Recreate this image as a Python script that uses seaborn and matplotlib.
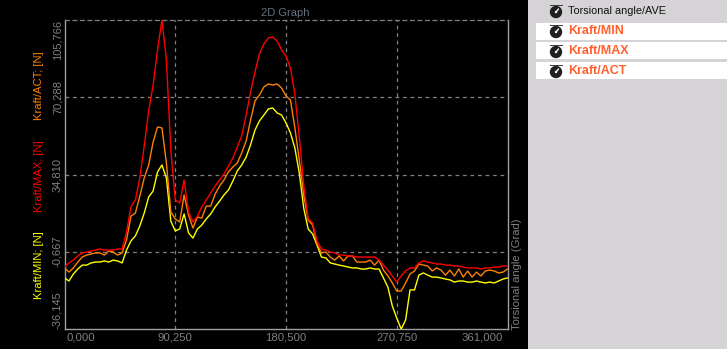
import pandas as pd
import seaborn as sns
import matplotlib.pyplot as plt
from matplotlib.patches import Circle, Rectangle

# angle samples, Grad
angle = [0.00, 3.61, 7.22, 10.83, 14.44, 18.05, 21.66, 25.27, 28.88, 32.49,
         36.10, 39.71, 43.32, 46.93, 50.54, 54.15, 57.76, 61.37, 64.98, 68.59,
         72.20, 75.81, 79.42, 83.03, 86.64, 90.25, 93.86, 97.47, 101.08, 104.69,
         108.30, 111.91, 115.52, 119.13, 122.74, 126.35, 129.96, 133.57, 137.18, 140.79,
         144.40, 148.01, 151.62, 155.23, 158.84, 162.45, 166.06, 169.67, 173.28, 176.89,
         180.50, 184.11, 187.72, 191.33, 194.94, 198.55, 202.16, 205.77, 209.38, 212.99,
         216.60, 220.21, 223.82, 227.43, 231.04, 234.65, 238.26, 241.87, 245.48, 249.09,
         252.70, 256.31, 259.92, 263.53, 267.14, 270.75, 274.36, 277.97, 281.58, 285.19,
         288.80, 292.41, 296.02, 299.63, 303.24, 306.85, 310.46, 314.07, 317.68, 321.29,
         324.90, 328.51, 332.12, 335.73, 339.34, 342.95, 346.56, 350.17, 353.78, 357.39,
         361.00]

kraft_max = [-7.7, -5.8, -4.5, -2.6, -1.2, -0.8, -0.3, 0.1, 0.6, 0.1,
             0.1, 0.1, 0.6, 0.6, 8.4, 19.9, 23.1, 33.2, 47.9, 64.0,
             75.9, 92.0, 105.8, 87.4, 46.1, 23.1, 21.7, 32.3, 17.6, 13.0,
             15.7, 19.9, 23.1, 26.3, 29.5, 32.3, 35.0, 38.7, 42.4, 47.4,
             52.5, 62.1, 72.7, 81.9, 90.2, 94.7, 97.5, 98.0, 96.1, 92.0,
             89.2, 83.7, 71.8, 52.0, 30.0, 14.4, 12.6, 4.3, 0.6, 0.1,
             -0.8, -1.2, -2.2, -2.2, -2.6, -2.6, -3.1, -3.1, -3.1, -3.1,
             -3.1, -4.5, -6.8, -9.1, -11.8, -14.6, -11.8, -9.5, -8.1, -8.1,
             -5.8, -4.9, -5.4, -5.8, -6.3, -6.3, -6.8, -6.8, -7.2, -7.2,
             -7.7, -8.1, -8.1, -8.1, -8.6, -8.1, -8.1, -7.7, -7.7, -7.2,
             -7.2]

kraft_act = [-8.1, -10.0, -8.1, -5.4, -3.1, -2.2, -1.7, -1.2, -1.2, -2.2,
             -0.3, -0.8, -2.2, -1.2, 4.7, 15.7, 17.1, 24.9, 33.2, 39.2,
             49.7, 56.6, 56.2, 40.1, 17.6, 14.4, 13.0, 25.4, 16.2, 10.2,
             15.3, 14.8, 20.3, 20.3, 25.8, 29.5, 32.3, 36.0, 38.2, 40.1,
             44.7, 50.2, 59.8, 68.6, 71.3, 75.0, 76.4, 75.9, 76.4, 74.5,
             70.9, 69.0, 56.2, 41.5, 25.4, 13.9, 11.6, 2.9, -1.2, -0.8,
             -3.1, -4.5, -2.6, -4.9, -2.6, -2.6, -5.4, -5.4, -5.4, -4.5,
             -6.8, -4.5, -9.1, -11.8, -15.0, -18.7, -18.7, -15.0, -10.9, -9.5,
             -6.3, -6.8, -7.2, -9.5, -8.1, -9.1, -11.4, -9.1, -11.8, -8.6,
             -12.3, -9.5, -12.3, -10.0, -11.8, -9.5, -9.1, -9.5, -10.4, -10.0,
             -8.6]

kraft_min = [-12.7, -14.1, -10.9, -8.6, -6.8, -6.8, -5.8, -5.4, -5.4, -4.9,
             -5.4, -4.5, -4.9, -5.8, 0.1, 4.3, 6.6, 11.2, 17.1, 24.5,
             27.2, 36.0, 39.2, 33.2, 13.4, 8.9, 9.8, 16.7, 8.0, 5.6,
             9.8, 11.6, 14.4, 16.7, 19.9, 22.6, 25.4, 27.7, 31.8, 36.4,
             39.2, 42.8, 48.4, 55.2, 59.4, 62.1, 64.9, 65.4, 63.1, 62.1,
             58.5, 53.9, 47.0, 35.5, 19.4, 9.8, 7.5, 2.4, -3.1, -3.5,
             -5.8, -6.3, -6.8, -7.2, -7.7, -8.1, -8.1, -8.6, -8.6, -8.1,
             -8.6, -8.6, -12.7, -16.9, -25.6, -31.1, -36.2, -32.0, -18.2, -18.2,
             -11.4, -10.4, -11.4, -12.3, -12.3, -12.7, -13.2, -13.6, -14.6, -14.1,
             -14.1, -14.6, -14.6, -14.1, -14.6, -15.0, -14.6, -15.0, -14.1, -13.2,
             -12.7]

x_ticks = [90.25, 180.5, 270.75]
y_ticks = [-36.145, -0.667, 34.81, 70.288, 105.766]
x_labels = ["0,000", "90,250", "180,500", "270,750", "361,000"]
y_labels = ["-36,145", "-0,667", "34,810", "70,288", "105,766"]
legend_names = ["Torsional angle/AVE", "Kraft/MIN", "Kraft/MAX", "Kraft/ACT"]

W, H = 727, 349
sns.set_theme(style="dark")
plt.rcParams['font.family'] = ['Liberation Sans', 'DejaVu Sans']

fig = plt.figure(figsize=(W / 100, H / 100), dpi=100, facecolor="black")
ax = fig.add_axes([64.5 / W, 1 - 329 / H, 443 / W, 309 / H], facecolor="black")

df = pd.DataFrame({"angle": angle, "min": kraft_min, "act": kraft_act, "max": kraft_max})
for col, c in [("min", "#ffff00"), ("act", "#ff8000"), ("max", "#ff0000")]:
    sns.lineplot(data=df, x="angle", y=col, color=c, linewidth=1.0, estimator=None, sort=False,
                 ax=ax, zorder=3)

ax.set_xlim(0, 361)
ax.set_ylim(y_ticks[0], y_ticks[-1])
ax.set_xlabel("")
ax.set_ylabel("")
ax.set_xticks(x_ticks)
ax.set_yticks(y_ticks[1:-1])
ax.set_xticklabels([])
ax.set_yticklabels([])
ax.tick_params(length=0)
ax.grid(True, color="#808080", ls=(0, (3, 3)), lw=0.9)
ax.set_axisbelow(True)
for s in ["left", "right", "bottom"]:
    ax.spines[s].set_color("#a0a0a0")
    ax.spines[s].set_linewidth(1.0)
ax.spines["top"].set_color("#808080")
ax.spines["top"].set_linestyle((0, (3, 3)))
ax.spines["top"].set_linewidth(0.9)

# tick labels sit inside the ends of the axes, so they are placed one by one
GR = "#808080"
trans_x = ax.get_xaxis_transform()
trans_y = ax.get_yaxis_transform()
x_pos = [(2.0, "left"), (90.25, "center"), (180.5, "center"), (270.75, "center"), (357, "right")]
for (xp, ha), lab in zip(x_pos, x_labels):
    ax.text(xp, -9 / 309, lab, transform=trans_x, ha=ha, va="center", color=GR, fontsize=8.2, clip_on=False)
y_va = ["bottom", "center", "center", "center", "top"]
for yp, va, lab in zip(y_ticks, y_va, y_labels):
    ax.text(-7 / 443, yp, lab, transform=trans_y, rotation=90, ha="center", va=va, color=GR, fontsize=8, clip_on=False)

fig.text(39 / W, 1 - 85.5 / H, "Kraft/ACT; [N]", rotation=90, color="#ff8000", fontsize=8.1, ha="center", va="center")
fig.text(39 / W, 1 - 176 / H, "Kraft/MAX; [N]", rotation=90, color="#ff0000", fontsize=8.1, ha="center", va="center")
fig.text(39 / W, 1 - 265 / H, "Kraft/MIN; [N]", rotation=90, color="#ffff00", fontsize=8.1, ha="center", va="center")
fig.text(516.5 / W, 1 - 274.5 / H, "Torsional angle (Grad)", rotation=90, color=GR, fontsize=8.1, ha="center", va="center")
fig.text(285 / W, 1 - 13 / H, "2D Graph", color="#66737f", fontsize=8, ha="center", va="center")

# side panel in pixel coordinates
side = fig.add_axes([0, 0, 1, 1], facecolor="none")
side.set_xlim(0, W)
side.set_ylim(H, 0)
side.axis("off")
side.add_patch(Rectangle((528, 0), W - 528, H, color="#d6d3d6", lw=0))
for y0 in [23, 42, 62]:
    side.add_patch(Rectangle((536, y0), W - 536, 17, color="white", lw=0))
for i, name in enumerate(legend_names):
    yc = 11 + 20 * i
    side.add_patch(Rectangle((549.5, yc - 6.5), 13, 1.5, color="#404040", lw=0))
    side.add_patch(Rectangle((555, yc - 6), 2, 2.5, color="#404040", lw=0))
    side.add_patch(Circle((556, yc + 1), 6.2, color="#202020", lw=0))
    side.plot([556, 558.5], [yc + 1, yc - 2], color="white", lw=1.0)
    side.add_patch(Circle((556, yc + 1), 1.2, color="white", lw=0))
    if i == 0:
        side.text(568, yc, name, color="#101010", fontsize=7.8, va="center", ha="left")
    else:
        side.text(568, yc, name, color="#ff6030", fontsize=9, fontweight="bold", va="center", ha="left")
side.set_xlim(0, W)
side.set_ylim(H, 0)

fig.savefig("out.png", dpi=100, facecolor="black")
